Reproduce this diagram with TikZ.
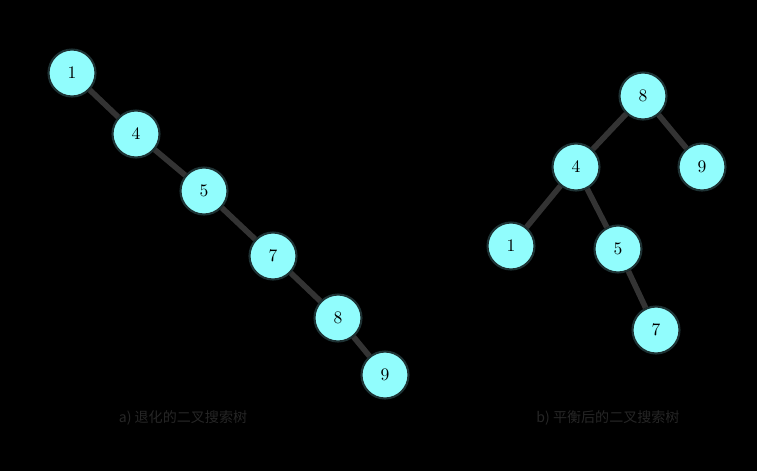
\documentclass[tikz,border=0pt]{standalone}
\usepackage{fontspec}
\newfontfamily\cjk{Noto Sans CJK SC}
\definecolor{nodefill}{RGB}{145,253,253}
\definecolor{nodeline}{RGB}{30,50,52}
\begin{document}
\begin{tikzpicture}[x=0.02cm,y=-0.02cm,
  tnode/.style={circle,fill=nodefill,draw=nodeline,line width=1.2pt,minimum size=0.94cm,inner sep=0pt,font=\fontsize{10}{11}\selectfont},
  tedge/.style={draw=black!80,line width=3.2pt},
  caption/.style={font=\cjk\fontsize{8}{9}\selectfont,text=black!85}]
\fill[black] (0,0) rectangle (757,471);
\useasboundingbox (0,0) rectangle (757,471);
% left tree
\node[tnode] (a1) at (72,73) {1};
\node[tnode] (a4) at (136,134) {4};
\node[tnode] (a5) at (204,191) {5};
\node[tnode] (a7) at (273,256) {7};
\node[tnode] (a8) at (338,318) {8};
\node[tnode] (a9) at (385,375) {9};
% right tree
\node[tnode] (b8) at (643,96) {8};
\node[tnode] (b4) at (576,167) {4};
\node[tnode] (b9) at (702,167) {9};
\node[tnode] (b1) at (511,246) {1};
\node[tnode] (b5) at (618,249) {5};
\node[tnode] (b7) at (656,330) {7};
\draw[tedge] (a1) -- (a4);
\draw[tedge] (a4) -- (a5);
\draw[tedge] (a5) -- (a7);
\draw[tedge] (a7) -- (a8);
\draw[tedge] (a8) -- (a9);
\draw[tedge] (b8) -- (b4);
\draw[tedge] (b8) -- (b9);
\draw[tedge] (b4) -- (b1);
\draw[tedge] (b4) -- (b5);
\draw[tedge] (b5) -- (b7);
\node[caption] (capa) at (183,418) {a) 退化的二叉搜索树};
\node[caption] (capb) at (608,418) {b) 平衡后的二叉搜索树};
\end{tikzpicture}
\end{document}
